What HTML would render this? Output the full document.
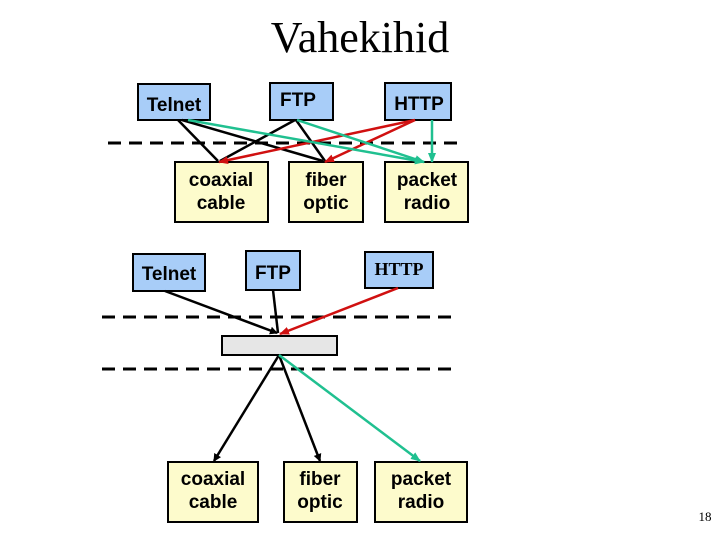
<!DOCTYPE html>
<html><head><style>
body{margin:0;background:#fff}
svg text{font-family:"Liberation Sans",sans-serif;font-weight:bold;font-size:19px}
</style></head><body>
<svg width="720" height="540" viewBox="0 0 720 540" xmlns="http://www.w3.org/2000/svg">
<defs>
<marker id="ak" markerWidth="8" markerHeight="8" refX="7" refY="4" orient="auto" markerUnits="userSpaceOnUse"><path d="M0,0 L8,4 L0,8z" fill="#000"/></marker>
<marker id="ar" markerWidth="10" markerHeight="8" refX="9" refY="4" orient="auto" markerUnits="userSpaceOnUse"><path d="M0,0 L10,4 L0,8z" fill="#d01010"/></marker>
<marker id="ag" markerWidth="10" markerHeight="8" refX="9" refY="4" orient="auto" markerUnits="userSpaceOnUse"><path d="M0,0 L10,4 L0,8z" fill="#20c090"/></marker>
</defs>
<text x="360" y="52" text-anchor="middle" style="font-family:'Liberation Serif',serif;font-weight:normal;font-size:44px">Vahekihid</text>
<g stroke="#000" stroke-width="3" stroke-dasharray="13,8">
<line x1="108" y1="143" x2="458" y2="143"/>
<line x1="102" y1="317" x2="452" y2="317"/>
<line x1="102" y1="369" x2="452" y2="369"/>
</g>
<g stroke="#000" stroke-width="2" fill="#a8cdf8">
<rect x="138" y="84" width="72" height="36"/>
<rect x="270" y="83" width="63" height="37"/>
<rect x="385" y="83" width="66" height="37"/>
<rect x="133" y="254" width="72" height="37"/>
<rect x="246" y="251" width="54" height="39"/>
<rect x="365" y="252" width="68" height="36"/>
</g>
<g stroke="#000" stroke-width="2" fill="#fdfbcc">
<rect x="175" y="162" width="93" height="60"/>
<rect x="289" y="162" width="74" height="60"/>
<rect x="385" y="162" width="83" height="60"/>
<rect x="168" y="462" width="90" height="60"/>
<rect x="284" y="462" width="73" height="60"/>
<rect x="375" y="462" width="92" height="60"/>
</g>
<rect x="222" y="336" width="115" height="19" fill="#e6e6e6" stroke="#000" stroke-width="2"/>
<g stroke="#000" stroke-width="2.5" fill="none">
<line x1="178" y1="120" x2="218" y2="161"/>
<line x1="182" y1="120" x2="323" y2="161"/>
<line x1="295" y1="120" x2="220" y2="161"/>
<line x1="296" y1="120" x2="325" y2="161"/>
<line x1="165" y1="291" x2="277" y2="333" marker-end="url(#ak)"/>
<line x1="273" y1="290" x2="278" y2="333"/>
<line x1="279" y1="355" x2="214" y2="461" marker-end="url(#ak)"/>
<line x1="279" y1="355" x2="320" y2="461" marker-end="url(#ak)"/>
</g>
<g stroke="#d01010" stroke-width="2.5">
<line x1="415" y1="120" x2="219" y2="162" marker-end="url(#ar)"/>
<line x1="415" y1="120" x2="325" y2="162" marker-end="url(#ar)"/>
<line x1="398" y1="288" x2="280" y2="334" marker-end="url(#ar)"/>
</g>
<g stroke="#20c090" stroke-width="2.5">
<line x1="188" y1="120" x2="424" y2="162" marker-end="url(#ag)"/>
<line x1="297" y1="120" x2="424" y2="162" marker-end="url(#ag)"/>
<line x1="432" y1="120" x2="432" y2="162" marker-end="url(#ag)"/>
<line x1="279" y1="355" x2="420" y2="461" marker-end="url(#ag)"/>
</g>
<text x="174" y="111" text-anchor="middle">Telnet</text>
<text x="298" y="106" text-anchor="middle">FTP</text>
<text x="419" y="110" text-anchor="middle">HTTP</text>
<text x="221" y="186" text-anchor="middle">coaxial</text>
<text x="221" y="209" text-anchor="middle">cable</text>
<text x="326" y="186" text-anchor="middle">fiber</text>
<text x="326" y="209" text-anchor="middle">optic</text>
<text x="427" y="186" text-anchor="middle">packet</text>
<text x="427" y="209" text-anchor="middle">radio</text>
<text x="169" y="280" text-anchor="middle">Telnet</text>
<text x="273" y="279" text-anchor="middle">FTP</text>
<text x="399" y="275" text-anchor="middle" style="font-family:'Liberation Serif',serif;font-size:18px">HTTP</text>
<text x="213" y="485" text-anchor="middle">coaxial</text>
<text x="213" y="508" text-anchor="middle">cable</text>
<text x="320" y="485" text-anchor="middle">fiber</text>
<text x="320" y="508" text-anchor="middle">optic</text>
<text x="421" y="485" text-anchor="middle">packet</text>
<text x="421" y="508" text-anchor="middle">radio</text>
<text x="705" y="521" text-anchor="middle" style="font-family:'Liberation Serif',serif;font-weight:normal;font-size:13px">18</text>
</svg>
</body></html>
